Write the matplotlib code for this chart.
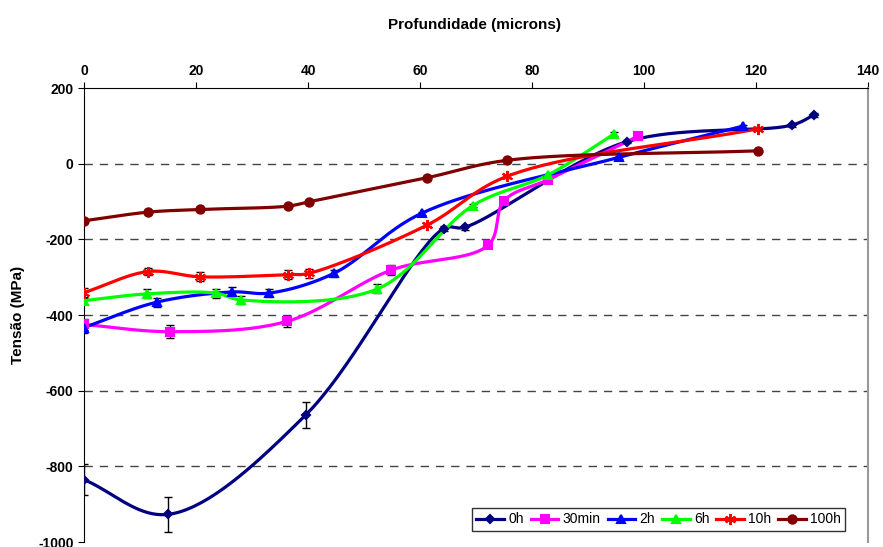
import numpy as np
import matplotlib
matplotlib.use('Agg')
import matplotlib.pyplot as plt

plt.rcParams['font.family'] = ['Liberation Sans', 'DejaVu Sans']
plt.rcParams['axes.unicode_minus'] = False

# depth (microns), stress (MPa), error (MPa) per treatment time
x_0h = [0, 15, 39.6, 64.2, 68, 96.9, 126.4, 130.4]
y_0h = [-835, -927, -664, -172, -168, 58, 102, 129]
e_0h = [40, 46, 34, 6, 6, 4, 4, 6]

x_30min = [0, 15.4, 36.2, 54.9, 72.2, 75, 82.9, 99]
y_30min = [-425, -444, -417, -281, -215, -98, -42, 73]
e_30min = [15, 18, 15, 12, 8, 6, 4, 4]

x_2h = [0, 13, 26.5, 33.1, 44.6, 60.3, 95.6, 117.6]
y_2h = [-433, -366, -339, -342, -290, -131, 17, 99]
e_2h = [15, 12, 12, 10, 10, 4, 4, 4]

x_6h = [0, 11.3, 23.5, 28, 52.4, 69.4, 82.8, 94.6]
y_6h = [-362, -344, -342, -360, -331, -111, -30, 78]
e_6h = [8, 12, 12, 10, 12, 4, 4, 5]

x_10h = [0, 11.5, 20.7, 36.5, 40.1, 61.3, 75.6, 120.3]
y_10h = [-341, -285, -299, -293, -290, -162, -33, 92]
e_10h = [12, 10, 12, 12, 12, 4, 4, 4]

x_100h = [0, 11.5, 20.7, 36.5, 40.1, 61.3, 75.6, 120.3]
y_100h = [-151, -128, -121, -112, -101, -37, 9, 34]
e_100h = [3, 3, 3, 3, 3, 3, 3, 3]

labels = ['0h', '30min', '2h', '6h', '10h', '100h']
colors = ['#000080', '#FF00FF', '#0000FF', '#00FF00', '#FF0000', '#800000']
markers = ['D', 's', '^', '^', (6, 2, 0), 'o']
msizes = [4, 6, 6, 6, 8, 6]


def smooth(x, y, n=40, alpha=0.5):
    # centripetal Catmull-Rom through the points (Excel-like smoothed line),
    # computed in screen-like units so the curve does not loop
    sx, sy = 5.6, 0.3785
    p = np.column_stack([np.asarray(x) * sx, np.asarray(y) * sy]).astype(float)
    p = np.vstack([2 * p[0] - p[1], p, 2 * p[-1] - p[-2]])
    out = []
    for i in range(1, len(p) - 2):
        p0, p1, p2, p3 = p[i - 1], p[i], p[i + 1], p[i + 2]
        t0 = 0.0
        t1 = t0 + max(np.linalg.norm(p1 - p0), 1e-6) ** alpha
        t2 = t1 + max(np.linalg.norm(p2 - p1), 1e-6) ** alpha
        t3 = t2 + max(np.linalg.norm(p3 - p2), 1e-6) ** alpha
        t = np.linspace(t1, t2, n)[:, None]
        a1 = (t1 - t) / (t1 - t0) * p0 + (t - t0) / (t1 - t0) * p1
        a2 = (t2 - t) / (t2 - t1) * p1 + (t - t1) / (t2 - t1) * p2
        a3 = (t3 - t) / (t3 - t2) * p2 + (t - t2) / (t3 - t2) * p3
        b1 = (t2 - t) / (t2 - t0) * a1 + (t - t0) / (t2 - t0) * a2
        b2 = (t3 - t) / (t3 - t1) * a2 + (t - t1) / (t3 - t1) * a3
        c = (t2 - t) / (t2 - t1) * b1 + (t - t1) / (t2 - t1) * b2
        out.append(c)
    s = np.vstack(out)
    return s[:, 0] / sx, s[:, 1] / sy


fig = plt.figure(figsize=(8.83, 5.47), dpi=100)
ax = fig.add_axes([0.0951, 0.0091, 0.888, 0.830])

series = [(x_0h, y_0h, e_0h), (x_30min, y_30min, e_30min), (x_2h, y_2h, e_2h),
          (x_6h, y_6h, e_6h), (x_10h, y_10h, e_10h), (x_100h, y_100h, e_100h)]

for (x, y, e), lab, c, m, ms in zip(series, labels, colors, markers, msizes):
    ax.errorbar(x, y, yerr=e, fmt='none', ecolor='black', elinewidth=1,
                capsize=3, capthick=1, zorder=2)
    sx, sy = smooth(x, y)
    ax.plot(sx, sy, color=c, lw=2.3, zorder=3)
    ax.plot(x, y, linestyle='none', marker=m, color=c, markersize=ms,
            markeredgecolor=c, markeredgewidth=1.5, zorder=4)
    ax.plot([], [], color=c, lw=2.3, marker=m, markersize=ms,
            markeredgewidth=1.5, label=lab)

ax.set_xlim(0, 140)
ax.set_ylim(-1000, 200)
ax.set_xticks(range(0, 141, 20))
ax.set_yticks(range(-1000, 201, 200))
ax.xaxis.tick_top()
ax.tick_params(axis='both', direction='out', length=4, labelsize=10)
for lbl in ax.get_xticklabels() + ax.get_yticklabels():
    lbl.set_fontweight('bold')

for yv in range(-800, 1, 200):
    ax.axhline(yv, color='#444444', lw=1, dashes=(6, 5), zorder=1)

ax.spines['bottom'].set_visible(False)
ax.spines['right'].set_color('#999999')
ax.spines['right'].set_linewidth(1.5)

fig.text(0.537, 0.955, 'Profundidade (microns)', ha='center', va='center',
         fontsize=11, fontweight='bold')
fig.text(0.02, 0.424, 'Tensão (MPa)', ha='center', va='center',
         rotation=90, fontsize=11, fontweight='bold')

leg = ax.legend(loc='lower right', bbox_to_anchor=(0.98, 0.01), ncol=6,
                fontsize=10, frameon=True, fancybox=False, handlelength=2.0,
                handletextpad=0.3, columnspacing=0.5, borderpad=0.3)
leg.get_frame().set_edgecolor('black')
leg.get_frame().set_linewidth(1)

fig.savefig('out.png', dpi=100)
